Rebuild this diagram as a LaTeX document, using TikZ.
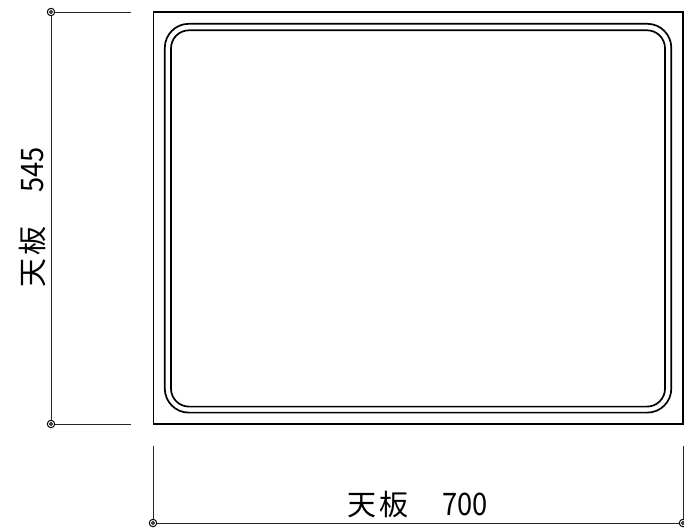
\documentclass[tikz,border=0pt]{standalone}
\usepackage{fontspec}
\setmainfont{Noto Sans CJK JP}
\newcommand{\kanjipart}{\fontsize{29}{29}\selectfont 天\kern3.5pt板}
\newcommand{\digitpart}[1]{\kern34pt\scalebox{0.88}[1]{\fontsize{31}{31}\selectfont #1}}
\tikzset{
  dimline/.style={draw=black!85!white,line width=1pt},
  edge/.style={draw=black,line width=1.7pt},
  groove/.style={draw=black,line width=1.7pt},
  dimtext/.style={inner sep=0pt},
}
\begin{document}
\begin{tikzpicture}[x=1pt,y=-1pt]
\useasboundingbox (0,0) rectangle (684,530);
\draw[edge] (153.5,12.3) rectangle (683,424);
\draw[groove,rounded corners=24pt] (164.8,23.8) rectangle (671.3,412.6);
\draw[groove,rounded corners=18pt] (171,30.3) rectangle (665,406.6);
\coordinate (tl) at (51,12);
\coordinate (bl) at (51,424);
\coordinate (tle) at (131,12);
\coordinate (ble) at (131,424);
\coordinate (lb) at (153,523);
\coordinate (rb) at (683,523);
\coordinate (lbe) at (153,446);
\coordinate (rbe) at (683,446);
\draw[dimline] (tle) -- (tl) -- (bl) -- (ble);
\draw[dimline] (lbe) -- (lb) -- (rb) -- (rbe);
\foreach \p in {tl,bl,lb,rb}{
  \draw[black,line width=1pt,fill=white] (\p) circle (3.7pt);
  \draw[black,line width=0.9pt] (\p) circle (1.5pt);
}
\node[dimtext,anchor=base west] (wlabel) at (347,515) {\kanjipart\digitpart{700}};
\node[dimtext,anchor=base west,rotate=90] (hlabel) at (43,288) {\kanjipart\digitpart{545}};
\end{tikzpicture}
\end{document}
